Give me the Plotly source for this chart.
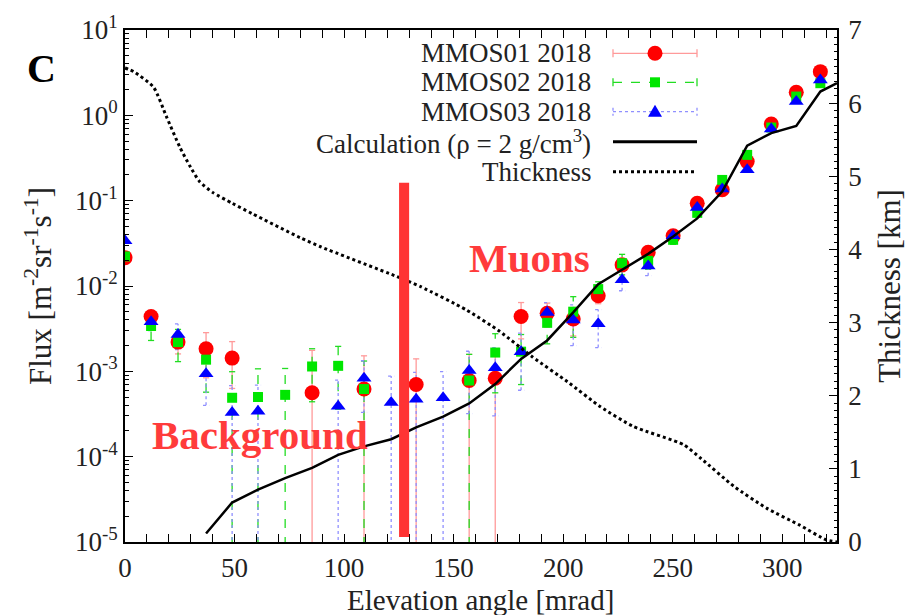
import plotly.graph_objects as go

# ---------------- data ----------------
angle = [0, 11.9, 24.2, 37.0, 48.9, 60.7, 73.1, 85.4, 97.3, 109.1, 121.5, 132.9, 145.2, 157.1,
         169.0, 180.8, 192.7, 204.6, 216.0, 226.9, 238.8, 250.2, 261.2, 272.6, 284.0, 295.0,
         306.4, 317.4]

mmos01 = [0.0215, 0.0044, 0.0022, 0.00184, 0.00143, None, None, 0.00056, None, 0.00062, None,
          0.0007, None, 0.00078, 0.00083, 0.0044, 0.0048, 0.0041, 0.0077, 0.0177, 0.0249, 0.0387,
          0.093, 0.134, 0.287, 0.79, 1.86, 3.25]
mmos01_err = [0.002, 0.0007, 0.0006, 0.0010, 0.0008, None, None, 0.0012, None, 0.0009, None,
              0.0007, None, 0.0008, 0.0009, 0.002, 0.0015, 0.0015, 0.0015, 0.003, 0.003, 0.003,
              0.006, 0.008, 0.02, 0.04, 0.08, 0.12]

mmos02 = [0.0222, 0.0034, 0.0022, 0.00137, 0.00049, 0.0005, 0.00053, 0.00114, 0.00116, 0.00062,
          None, None, None, 0.00078, 0.00166, 0.0017, 0.0037, 0.005, 0.0092, 0.0185, 0.0197,
          0.0348, 0.072, 0.175, 0.344, 0.72, 1.66, 2.38]
mmos02_err = [0.002, 0.0011, 0.0009, 0.0008, 0.0005, 0.00057, 0.00055, 0.0007, 0.0008, 0.0007,
              None, None, None, 0.0008, 0.0011, 0.0010, 0.0016, 0.0025, 0.002, 0.005, 0.004,
              0.004, 0.007, 0.01, 0.02, 0.04, 0.08, 0.1]

mmos03 = [0.034, 0.0038, 0.0027, 0.00094, 0.00033, 0.00034, None, None, 0.00039, 0.00083,
          0.00043, 0.00047, 0.00049, 0.00102, 0.0011, 0.0017, 0.0049, 0.004, 0.0036, 0.0118,
          0.0172, 0.0387, 0.083, 0.137, 0.23, 0.69, 1.45, 2.6]
mmos03_err = [0.003, 0.0008, 0.0009, 0.00054, 0.00035, 0.00035, None, None, 0.0004, 0.0005,
              0.00045, 0.0005, 0.0005, 0.0007, 0.0008, 0.0011, 0.0015, 0.002, 0.0017, 0.003,
              0.004, 0.004, 0.006, 0.01, 0.015, 0.04, 0.06, 0.1]

calc_angle = [37.0, 48.9, 60.7, 73.1, 85.4, 97.3, 109.1, 121.5, 132.9, 145.2, 157.1, 169.0,
              180.8, 192.7, 204.6, 216.0, 226.9, 238.8, 250.2, 261.2, 272.6, 284.0, 295.0,
              306.4, 317.4, 325.0]
calc_flux = [1.26e-5, 2.9e-5, 4.1e-5, 5.6e-5, 7.4e-5, 1.05e-4, 1.32e-4, 1.6e-4, 2.2e-4, 2.95e-4,
             4.2e-4, 7.1e-4, 1.4e-3, 2.3e-3, 4.9e-3, 0.0105, 0.0155, 0.0238, 0.038, 0.062,
             0.128, 0.44, 0.62, 0.75, 1.9, 2.38]

thick_angle = [0, 4, 13, 19, 25, 30, 34, 40, 49, 58, 80, 89, 124, 135, 156, 171, 186, 202, 217,
               232, 255, 263, 278, 293, 308, 320, 325]
thickness = [6.48, 6.43, 6.22, 5.81, 5.40, 5.12, 4.93, 4.78, 4.63, 4.49, 4.16, 4.04, 3.63, 3.49,
             3.17, 2.88, 2.53, 2.19, 1.85, 1.58, 1.33, 1.14, 0.76, 0.46, 0.23, 0.03, 0.0]

# red band marking the background/muon boundary (angle range, thickness-axis range)
band_angle = [125.1, 129.7]
band_thick = [0.07, 4.91]

flux_ticks = [1e-5, 1e-4, 1e-3, 1e-2, 1e-1, 1e0, 1e1]
flux_ticktext = ["10<sup>-5</sup>", "10<sup>-4</sup>", "10<sup>-3</sup>", "10<sup>-2</sup>",
                 "10<sup>-1</sup>", "10<sup>0</sup>", "10<sup>1</sup>"]

names = ["MMOS01 2018", "MMOS02 2018", "MMOS03 2018",
         "Calculation (ρ = 2 g/cm<sup>3</sup>)", "Thickness"]
x_title = "Elevation angle [mrad]"

# ---------------- style ----------------
FONT = "Liberation Serif"
RED, GREEN, BLUE = "#ff0000", "#00e600", "#0000ff"
RED_E, GREEN_E, BLUE_E = "#ff9a9a", "#22dd22", "#9090ff"

W, H = 907, 615
L, R, T, B = 125, 70, 30, 73
PW, PH = W - L - R, H - T - B


def px(xp):
    return (xp - L) / PW


def py(yp):
    return (H - B - yp) / PH


def err_segments(x, y, e, cap=1.4):
    xs, ys = [], []
    for xi, yi, ei in zip(x, y, e):
        if yi is None:
            continue
        lo = yi - ei
        if lo <= 0:
            lo = 1e-8
        hi = yi + ei
        xs += [xi, xi, None, xi - cap, xi + cap, None, xi - cap, xi + cap, None]
        ys += [lo, hi, None, hi, hi, None, lo, lo, None]
    return xs, ys


fig = go.Figure()

series = [
    (mmos01, mmos01_err, RED, RED_E, "solid", "circle", 15),
    (mmos02, mmos02_err, GREEN, GREEN_E, "dash", "square", 10),
    (mmos03, mmos03_err, BLUE, BLUE_E, "dot", "triangle-up", 13),
]

for vals, errs, c, ce, dash, sym, size in series:
    ex, ey = err_segments(angle, vals, errs)
    fig.add_trace(go.Scatter(x=ex, y=ey, mode="lines", line=dict(color=ce, width=1.3, dash=dash),
                             showlegend=False, hoverinfo="skip", connectgaps=False))

for (vals, errs, c, ce, dash, sym, size), nm in zip(series, names[:3]):
    xs = [a for a, v in zip(angle, vals) if v is not None]
    ys = [v for v in vals if v is not None]
    fig.add_trace(go.Scatter(x=xs, y=ys, mode="markers", name=nm,
                             marker=dict(symbol=sym, size=size, color=c, line=dict(width=0)),
                             showlegend=False))

fig.add_trace(go.Scatter(x=calc_angle, y=calc_flux, mode="lines", name=names[3],
                         line=dict(color="black", width=2.5), showlegend=False))

fig.add_trace(go.Scatter(x=thick_angle, y=thickness, mode="lines", name=names[4], yaxis="y2",
                         line=dict(color="black", width=3, dash="dot", shape="spline",
                                   smoothing=0.6), showlegend=False))

shapes = []
annotations = []

# red band
shapes.append(dict(type="rect", xref="x", yref="y2", x0=band_angle[0], x1=band_angle[1],
                   y0=band_thick[0], y1=band_thick[1], fillcolor="#ff3333", line=dict(width=0),
                   layer="above"))

# manual legend (text on the left, sample on the right)
rows = [53.3, 82.3, 111.7, 141.7, 171.7]
lx0, lx1, lxm = 613, 697, 655
for i, nm in enumerate(names):
    annotations.append(dict(x=px(593), y=py(rows[i]), xref="paper", yref="paper", text=nm,
                            showarrow=False, xanchor="right", yanchor="middle",
                            font=dict(family=FONT, size=27, color="#222")))
leg_styles = [(RED_E, "solid", 1.3), (GREEN_E, "dash", 1.3), (BLUE_E, "dot", 1.3),
              ("black", "solid", 3), ("black", "dot", 3)]
for i, (c, d, w) in enumerate(leg_styles):
    yy = py(rows[i])
    shapes.append(dict(type="line", xref="paper", yref="paper", x0=px(lx0), x1=px(lx1),
                       y0=yy, y1=yy, line=dict(color=c, width=w, dash=d)))
    if i < 3:
        for xe in (lx0, lx1):
            shapes.append(dict(type="line", xref="paper", yref="paper", x0=px(xe), x1=px(xe),
                               y0=py(rows[i] - 4), y1=py(rows[i] + 4),
                               line=dict(color=c, width=1.3, dash=d)))
# legend markers
r = 7.5
shapes.append(dict(type="circle", xref="paper", yref="paper", x0=px(lxm - r), x1=px(lxm + r),
                   y0=py(rows[0] + r), y1=py(rows[0] - r), fillcolor=RED, line=dict(width=0)))
s = 5
shapes.append(dict(type="rect", xref="paper", yref="paper", x0=px(lxm - s), x1=px(lxm + s),
                   y0=py(rows[1] + s), y1=py(rows[1] - s), fillcolor=GREEN, line=dict(width=0)))
tri = "M {},{} L {},{} L {},{} Z".format(px(lxm - 7), py(rows[2] + 5), px(lxm + 7),
                                         py(rows[2] + 5), px(lxm), py(rows[2] - 7))
shapes.append(dict(type="path", xref="paper", yref="paper", path=tri, fillcolor=BLUE,
                   line=dict(width=0)))

# text labels
annotations.append(dict(x=px(41), y=py(68), xref="paper", yref="paper", text="<b>C</b>",
                        showarrow=False, xanchor="center", yanchor="middle",
                        font=dict(family=FONT, size=40, color="black")))
annotations.append(dict(x=px(260), y=py(435), xref="paper", yref="paper", text="<b>Background</b>",
                        showarrow=False, xanchor="center", yanchor="middle",
                        font=dict(family=FONT, size=41, color="#ff3b3b")))
annotations.append(dict(x=px(529), y=py(258), xref="paper", yref="paper", text="<b>Muons</b>",
                        showarrow=False, xanchor="center", yanchor="middle",
                        font=dict(family=FONT, size=41, color="#ff3b3b")))
annotations.append(dict(x=px(480), y=py(600), xref="paper", yref="paper", text=x_title,
                        showarrow=False, xanchor="center", yanchor="middle",
                        font=dict(family=FONT, size=29, color="#222")))

minor_flux = [m * 10 ** e for e in range(-5, 1) for m in range(2, 10)]

tickfont = dict(family=FONT, size=27, color="#222")
titlefont = dict(family=FONT, size=31, color="#222")

fig.update_layout(
    width=W, height=H, margin=dict(l=L, r=R, t=T, b=B, autoexpand=False),
    paper_bgcolor="white", plot_bgcolor="white",
    shapes=shapes, annotations=annotations, showlegend=False,
    xaxis=dict(range=[0, 325], tickvals=[0, 50, 100, 150, 200, 250, 300], ticks="inside",
               ticklen=8, tickwidth=1.3, tickcolor="black", showline=True, linecolor="black",
               linewidth=1.6, mirror="allticks", showgrid=False, zeroline=False,
               tickfont=tickfont, ticklabelstandoff=1, automargin=False,
               minor=dict(dtick=10, ticks="inside", ticklen=4, tickcolor="black", showgrid=False)),
    yaxis=dict(type="log", range=[-5, 1], tickvals=flux_ticks, ticktext=flux_ticktext,
               ticks="inside", ticklen=8, tickwidth=1.3, tickcolor="black", showline=True,
               linecolor="black", linewidth=1.6, showgrid=False, zeroline=False,
               tickfont=tickfont, automargin=False,
               title=dict(text="Flux [m<sup>-2</sup>sr<sup>-1</sup>s<sup>-1</sup>]", font=titlefont,
                          standoff=14),
               minor=dict(tickvals=minor_flux, ticks="inside", ticklen=4, tickcolor="black",
                          showgrid=False)),
    yaxis2=dict(overlaying="y", side="right", range=[0, 7], dtick=1, ticks="inside", ticklen=8,
                tickwidth=1.3, tickcolor="black", showline=True, linecolor="black", linewidth=1.6,
                showgrid=False, zeroline=False, tickfont=tickfont, ticklabelstandoff=4,
                automargin=False,
                title=dict(text="Thickness [km]", font=titlefont, standoff=26),
                minor=dict(dtick=0.1, ticks="inside", ticklen=3, tickcolor="black",
                           showgrid=False)),
)

fig.write_html("out.html")
